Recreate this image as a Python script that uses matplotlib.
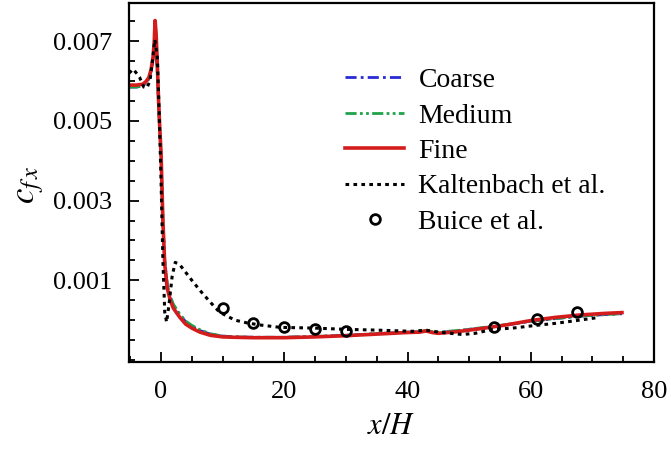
import matplotlib
matplotlib.use("Agg")
import matplotlib.pyplot as plt
from matplotlib.ticker import MultipleLocator, FixedLocator

plt.rcParams['font.family'] = ['Liberation Serif', 'DejaVu Serif']
plt.rcParams['mathtext.fontset'] = 'stix'

# ---- data ----
fine_x = [-5.2, -4, -3, -2.5, -2, -1.6, -1.3, -1.1, -0.97, -0.8, -0.6, -0.4, -0.2, 0, 0.3, 0.6, 1.0,
          1.5, 2, 3, 4, 5, 6.3, 8, 10, 12, 15, 20, 25, 30, 35, 40, 42, 43, 44, 45, 48, 52, 56, 60,
          64, 68, 72, 74.8]
fine_y = [0.0059, 0.0059, 0.00592, 0.00598, 0.00608, 0.0063, 0.0066, 0.0070, 0.00752, 0.0072,
          0.0064, 0.0055, 0.0048, 0.0042, 0.0025, 0.0014, 0.0008, 0.0005, 0.0003, 0.00008,
          -0.0001, -0.0002, -0.0003, -0.00038, -0.00042, -0.00043, -0.00044, -0.00044, -0.00042,
          -0.00039, -0.00035, -0.00031, -0.0003, -0.00027, -0.00031, -0.00033, -0.00029, -0.00021,
          -0.00012, -0.00001, 0.00007, 0.00013, 0.00017, 0.00019]

coarse_x = [-5.2, -4, -3, -2.5, -2, -1.6, -1.3, -1.1, -0.97, -0.8, -0.6, -0.4, -0.2, 0, 0.3, 0.6,
            1.0, 1.5, 2, 3, 4, 5, 6.3, 8, 10, 12, 15, 20, 25, 30, 35, 40, 42, 43, 44, 45, 48, 52,
            56, 60, 64, 68, 72, 74.8]
coarse_y = [0.00585, 0.00585, 0.00588, 0.00594, 0.00604, 0.00625, 0.0065, 0.0068, 0.0069, 0.0067,
            0.0062, 0.0054, 0.0047, 0.0041, 0.0025, 0.0015, 0.00088, 0.00058, 0.00038, 0.00014,
            -0.00004, -0.00015, -0.00026, -0.00035, -0.0004, -0.00042, -0.00043, -0.00043,
            -0.00041, -0.00038, -0.00034, -0.0003, -0.00029, -0.00027, -0.0003, -0.00031,
            -0.00027, -0.0002, -0.00012, -0.00003, 0.00004, 0.0001, 0.00014, 0.00016]

medium_x = coarse_x
medium_y = [0.00585, 0.00585, 0.00588, 0.00595, 0.00606, 0.00628, 0.00655, 0.0069, 0.0070,
            0.0068, 0.0063, 0.0054, 0.0047, 0.0041, 0.0025, 0.0015, 0.0009, 0.0006, 0.0004,
            0.00016, -0.00002, -0.00013, -0.00024, -0.00034, -0.0004, -0.00042, -0.00043,
            -0.00043, -0.00041, -0.00038, -0.00034, -0.0003, -0.00029, -0.00026, -0.00029,
            -0.0003, -0.00026, -0.00019, -0.00011, -0.00003, 0.00004, 0.0001, 0.00014, 0.00016]

kalt_x = [-5.2, -4.5, -3.5, -2.8, -2.3, -1.8, -1.4, -1.0, -0.6, -0.3, 0, 0.3, 0.6, 0.9, 1.3, 1.8,
          2.3, 3.0, 4.0, 5, 6.3, 8, 9.5, 12, 14, 16, 19.3, 25, 30, 35, 40.8, 43, 45, 48.9, 51, 53.8,
          57, 60.9, 64, 67.9, 71.1]
kalt_y = [0.0062, 0.0063, 0.0061, 0.00585, 0.00583, 0.0060, 0.0065, 0.00704, 0.0066, 0.0052,
          0.0035, 0.0015, 0.0002, -0.00005, 0.0004, 0.0011, 0.00145, 0.0014, 0.0012, 0.001,
          0.00075, 0.00045, 0.0002, 0.0, -0.00007, -0.00012, -0.00018, -0.0002, -0.00023,
          -0.00025, -0.00028, -0.00025, -0.0003, -0.00036, -0.00033, -0.00023, -0.0002,
          -0.00013, -0.00008, 0.0, 0.00007]

buice_x = [10, 15, 20, 25, 30, 54, 61, 67.5]
buice_y = [0.0003, -0.00006, -0.00018, -0.00021, -0.00028, -0.00016, 0.00004, 0.0002]

y_ticks = [0.001, 0.003, 0.005, 0.007]
y_ticklabels = ["0.001", "0.003", "0.005", "0.007"]
x_ticks = [0, 20, 40, 60, 80]

# ---- figure ----
fig = plt.figure(figsize=(6.71, 4.54), dpi=100)
ax = fig.add_axes([129/671, 1 - 362/454, (654-129)/671, (362-3)/454])

ax.plot(coarse_x, coarse_y, color='#2a2ad6', lw=2, linestyle=(0, (4, 1.5, 1, 1.5)), label='Coarse')
ax.plot(medium_x, medium_y, color='#1fa24a', lw=2, linestyle=(0, (4, 1.2, 1, 1.2, 1, 1.2)), label='Medium')
ax.plot(fine_x, fine_y, color='#d41c1c', lw=2.6, label='Fine')
ax.plot(kalt_x, kalt_y, color='black', lw=2.2, linestyle=(0, (1.2, 1.4)), label='Kaltenbach et al.')
ax.plot(buice_x, buice_y, linestyle='none', marker='o', ms=7, mfc='none', mec='black', mew=2,
        label='Buice et al.')

ax.set_xlim(-5.2, 80)
ax.set_ylim(-0.00105, 0.00796)
ax.xaxis.set_major_locator(FixedLocator(x_ticks))
ax.xaxis.set_minor_locator(MultipleLocator(5))
ax.yaxis.set_major_locator(FixedLocator(y_ticks))
ax.set_yticklabels(y_ticklabels)
ax.yaxis.set_minor_locator(MultipleLocator(0.0005))

ax.tick_params(which='both', direction='in', top=False, right=False, width=1.3, labelsize=19)
ax.tick_params(which='major', length=7)
ax.tick_params(which='minor', length=4)
ax.tick_params(axis='y', pad=12)
ax.tick_params(axis='x', pad=14)
for s in ax.spines.values():
    s.set_linewidth(1.6)

ax.set_xlabel('$x/H$', fontsize=22, labelpad=6)
fig.text(30/671, 1 - 185/454, '$c_{f\\,x}$', fontsize=25, rotation=90, ha='center', va='center')

leg = ax.legend(loc='upper left', bbox_to_anchor=(0.411, 0.82), frameon=False, fontsize=20,
                handlelength=2.15, handletextpad=0.5, labelspacing=0.36, borderpad=0,
                borderaxespad=0)

fig.savefig('out.png', dpi=100)
